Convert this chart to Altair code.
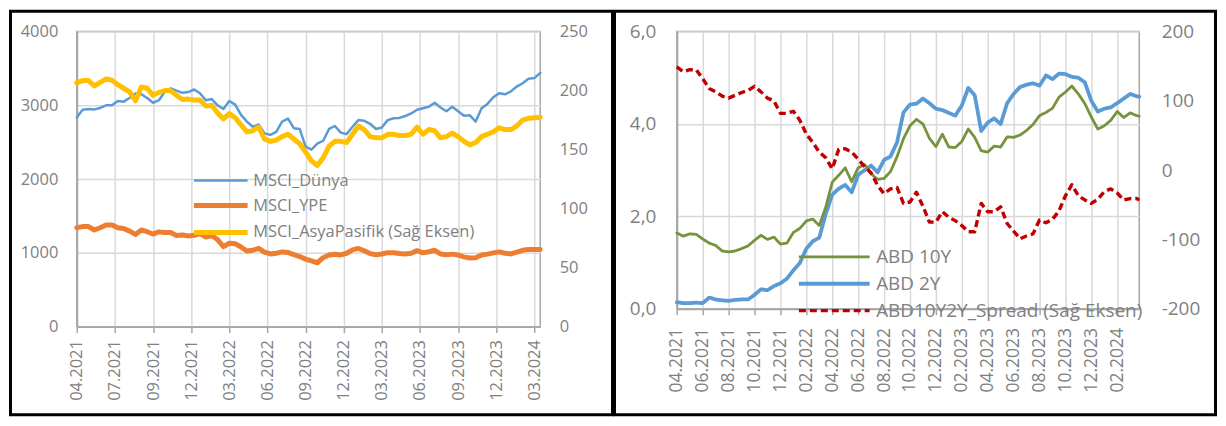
import json
import altair as alt
import pandas as pd

# ---------------- Left panel: MSCI indices (weekly index since 04.2021) ----------------
weeks_l = [0, 2, 4, 6, 8, 10, 12, 14, 16, 18, 20, 22, 24, 26, 28, 30, 32, 34, 36, 38,
           40, 42, 44, 46, 48, 50, 52, 54, 56, 58, 60, 62, 64, 66, 68, 70, 72, 74, 76, 78,
           80, 82, 84, 86, 88, 90, 92, 94, 96, 98, 100, 102, 104, 106, 108, 110, 112, 114, 116, 118,
           120, 122, 124, 126, 128, 130, 132, 134, 136, 138, 140, 142, 144, 146, 148, 150, 152, 154, 156, 158]
msci_dunya = [2835, 2940, 2950, 2945, 2965, 3000, 3000, 3060, 3050, 3100,
              3160, 3150, 3100, 3035, 3070, 3185, 3230, 3200, 3170, 3180,
              3215, 3165, 3070, 3085, 3000, 2950, 3060, 3010, 2870, 2780,
              2710, 2740, 2620, 2600, 2640, 2780, 2820, 2690, 2680, 2440,
              2400, 2480, 2520, 2680, 2720, 2630, 2610, 2710, 2800, 2790,
              2750, 2680, 2700, 2800, 2825, 2830, 2855, 2890, 2940, 2960,
              2980, 3035, 2971, 2920, 2980, 2920, 2860, 2865, 2780, 2960,
              3020, 3110, 3165, 3150, 3190, 3255, 3300, 3360, 3370, 3440]
msci_ype = [1342, 1356, 1356, 1310, 1340, 1379, 1379, 1340, 1330, 1295,
            1250, 1310, 1287, 1255, 1285, 1275, 1275, 1235, 1242, 1230,
            1238, 1262, 1215, 1235, 1180, 1085, 1130, 1125, 1080, 1025,
            1036, 1060, 1010, 985, 995, 1013, 1006, 975, 950, 915,
            890, 866, 935, 972, 980, 972, 995, 1040, 1060, 1028,
            990, 975, 985, 1003, 1001, 992, 985, 995, 1030, 1000,
            1015, 1035, 985, 975, 983, 970, 946, 930, 935, 970,
            983, 1000, 1013, 995, 985, 1010, 1035, 1047, 1047, 1047]
msci_asya = [206.5, 208.5, 208.5, 204, 207, 210, 208.8, 205, 202, 199,
             191.4, 203, 202, 196, 198.5, 200, 200, 196, 192.5, 192.8,
             192, 192, 187, 187.5, 181, 176, 180.5, 177, 171, 165,
             166, 169, 159, 157, 158, 161, 163, 159, 155, 148,
             140.5, 136.5, 143, 153, 157, 157, 156, 163, 170, 167,
             161, 160, 160, 163, 163, 162, 162, 163, 169, 163,
             167, 166, 160, 161, 164, 161, 157, 154, 156, 161,
             163, 165, 168.5, 167, 167, 170, 175, 176.5, 177, 177.5]
left_names = ["MSCI_Dünya", "MSCI_YPE", "MSCI_AsyaPasifik (Sağ Eksen)"]
left_tick_weeks = [0, 13, 26, 39, 52, 65, 78, 91, 104, 117, 130, 143, 156]
left_tick_labels = ["04.2021", "07.2021", "09.2021", "12.2021", "03.2022", "06.2022", "09.2022",
                    "12.2022", "03.2023", "06.2023", "09.2023", "12.2023", "03.2024"]

# ---------------- Right panel: US yields (months since 04.2021) ----------------
months_r = [0, 0.5, 1, 1.5, 2, 2.5, 3, 3.5, 4, 4.5, 5, 5.5, 6, 6.5, 7, 7.5, 8, 8.5, 9, 9.5,
            10, 10.5, 11, 11.5, 12, 12.5, 13, 13.5, 14, 14.5, 15, 15.5, 16, 16.5, 17, 17.5, 18, 18.5, 19, 19.5,
            20, 20.5, 21, 21.5, 22, 22.5, 23, 23.5, 24, 24.5, 25, 25.5, 26, 26.5, 27, 27.5, 28, 28.5, 29, 29.5,
            30, 30.5, 31, 31.5, 32, 32.5, 33, 33.5, 34, 34.5, 35, 35.5, 35.7]
abd_10y = [1.64, 1.57, 1.62, 1.61, 1.51, 1.42, 1.37, 1.25, 1.23, 1.25,
           1.30, 1.36, 1.48, 1.59, 1.50, 1.55, 1.40, 1.42, 1.65, 1.74,
           1.90, 1.94, 1.80, 2.20, 2.74, 2.89, 3.05, 2.75, 3.05, 3.12,
           2.92, 2.80, 2.82, 2.97, 3.29, 3.68, 3.96, 4.10, 4.00, 3.69,
           3.51, 3.78, 3.50, 3.49, 3.62, 3.89, 3.71, 3.42, 3.39, 3.52,
           3.50, 3.72, 3.71, 3.76, 3.86, 3.99, 4.18, 4.25, 4.34, 4.58,
           4.69, 4.82, 4.65, 4.44, 4.15, 3.89, 3.96, 4.08, 4.27, 4.14,
           4.24, 4.18, 4.17]
abd_2y = [0.14, 0.12, 0.12, 0.13, 0.12, 0.24, 0.20, 0.18, 0.17, 0.19,
          0.20, 0.20, 0.30, 0.42, 0.40, 0.49, 0.55, 0.65, 0.83, 0.99,
          1.30, 1.46, 1.54, 2.05, 2.47, 2.60, 2.68, 2.52, 2.90, 3.00,
          3.10, 2.95, 3.22, 3.30, 3.60, 4.25, 4.42, 4.44, 4.55, 4.45,
          4.33, 4.30, 4.24, 4.18, 4.40, 4.78, 4.62, 3.85, 4.03, 4.12,
          4.00, 4.45, 4.65, 4.80, 4.85, 4.88, 4.83, 5.05, 4.97, 5.09,
          5.08, 5.02, 5.00, 4.90, 4.50, 4.27, 4.33, 4.36, 4.45, 4.55,
          4.65, 4.60, 4.59]
spread_10y2y = [149, 142, 145, 145, 132, 118, 113, 107, 104, 108,
                112, 115, 121, 113, 104, 100, 82, 82, 85, 72,
                52, 40, 26, 18, 2, 30, 31, 26, 16, 5,
                -4, -22, -34, -27, -25, -48, -46, -32, -52, -75,
                -75, -60, -68, -73, -80, -89, -89, -48, -60, -60,
                -53, -77, -88, -99, -95, -92, -72, -76, -71, -59,
                -37, -21, -37, -43, -48, -42, -31, -27, -33, -43,
                -41, -41, -43]
right_names = ["ABD 10Y", "ABD 2Y", "ABD10Y2Y_Spread (Sağ Eksen)"]
right_tick_months = [0, 2, 4, 6, 8, 10, 12, 14, 16, 18, 20, 22, 24, 26, 28, 30, 32, 34]
right_tick_labels = ["04.2021", "06.2021", "08.2021", "10.2021", "12.2021", "02.2022", "04.2022",
                     "06.2022", "08.2022", "10.2022", "12.2022", "02.2023", "04.2023", "06.2023",
                     "08.2023", "10.2023", "12.2023", "02.2024"]

# ---------------- styling ----------------
FONT = "Open Sans"
TXT = "#808080"
AXC = "#A6A6A6"
GRID = "#D9D9D9"


def lbl_expr(labels, step):
    return json.dumps(labels) + "[round(datum.value / %s)]" % step


def frame(x, x2, y, y2):
    return alt.Chart(alt.Data(values=[{"f": 1}])).mark_rect(
        fillOpacity=0, stroke="black", strokeWidth=3
    ).encode(x=alt.value(x), x2=alt.value(x2), y=alt.value(y), y2=alt.value(y2))


# ---------- left chart ----------
df_dunya = pd.DataFrame({"w": weeks_l, "v": msci_dunya, "s": left_names[0]})
df_ype = pd.DataFrame({"w": weeks_l, "v": msci_ype, "s": left_names[1]})
df_asya = pd.DataFrame({"w": weeks_l, "v": msci_asya, "s": left_names[2]})

xl = alt.X("w:Q", scale=alt.Scale(domain=[0, 158], nice=False, zero=False),
           axis=alt.Axis(values=left_tick_weeks, labelExpr=lbl_expr(left_tick_labels, 13),
                         labelAngle=270, labelAlign="right", labelBaseline="middle",
                         labelPadding=7, tickSize=6, tickColor=AXC, tickWidth=1.5,
                         domainColor=AXC, domainWidth=2, grid=True, gridColor=GRID, gridWidth=1.5,
                         labelFontSize=16.5, labelColor=TXT, labelFont=FONT, labelFlush=False,
                         labelOverlap=False, title=None))
leg_l = alt.Legend(orient="none", legendX=115, legendY=141, direction="vertical", title=None,
                   symbolType="M-1,0H6.7", symbolSize=196, labelOffset=43, labelFontSize=16.5,
                   labelFont=FONT, labelColor=TXT, rowPadding=6, padding=0, labelLimit=400)
col_l = alt.Color("s:N", scale=alt.Scale(domain=left_names, range=["#5B9BD5", "#ED7D31", "#FFC000"]), legend=leg_l)
sw_l = alt.StrokeWidth("s:N", scale=alt.Scale(type="ordinal", domain=left_names, range=[2.5, 5, 5]), legend=leg_l)

ax_l_left = alt.Axis(values=[0, 1000, 2000, 3000, 4000], format="d", ticks=False, domainColor=AXC,
                     domainWidth=2, grid=True, gridColor=GRID, gridWidth=1.5, labelPadding=19,
                     labelFontSize=16.5, labelColor=TXT, labelFont=FONT, title=None)
ax_l_right = alt.Axis(values=[0, 50, 100, 150, 200, 250], format="d", orient="right", ticks=False,
                      domain=False, grid=False, labelPadding=19, labelFontSize=16.5, labelColor=TXT,
                      labelFont=FONT, title=None)

line_kw = dict(strokeCap="round", strokeJoin="round")
yl1 = alt.Y("v:Q", scale=alt.Scale(domain=[0, 4000], nice=False), axis=ax_l_left)
l_dunya = alt.Chart(df_dunya).mark_line(**line_kw).encode(x=xl, y=yl1, color=col_l, strokeWidth=sw_l)
l_ype = alt.Chart(df_ype).mark_line(**line_kw).encode(x=xl, y=yl1, color=col_l, strokeWidth=sw_l)
l_asya = alt.Chart(df_asya).mark_line(**line_kw).encode(
    x=xl, y=alt.Y("v:Q", scale=alt.Scale(domain=[0, 250], nice=False), axis=ax_l_right),
    color=col_l, strokeWidth=sw_l)

left = alt.layer(alt.layer(l_ype, l_dunya), l_asya, frame(-66.5, 537.5, -20.5, 384.5)).resolve_scale(
    y="independent").properties(width=465, height=296)

# ---------- right chart ----------
df_10 = pd.DataFrame({"m": months_r, "v": abd_10y, "s": right_names[0]})
df_2 = pd.DataFrame({"m": months_r, "v": abd_2y, "s": right_names[1]})
df_sp = pd.DataFrame({"m": months_r, "v": spread_10y2y, "s": right_names[2]})

xr = alt.X("m:Q", scale=alt.Scale(domain=[0, 35.7], nice=False, zero=False),
           axis=alt.Axis(values=right_tick_months, labelExpr=lbl_expr(right_tick_labels, 2),
                         labelAngle=270, labelAlign="right", labelBaseline="middle",
                         labelPadding=13, tickSize=6, tickColor=AXC, tickWidth=1.5,
                         domainColor=AXC, domainWidth=2, grid=True, gridColor=GRID, gridWidth=1.5,
                         labelFontSize=17.5, labelColor=TXT, labelFont=FONT, labelFlush=False,
                         labelOverlap=False, title=None))
leg_r = alt.Legend(orient="none", legendX=120, legendY=216.5, direction="vertical", title=None,
                   symbolType="M-1,0H9.14", symbolSize=196, labelOffset=61, labelFontSize=19,
                   labelFont=FONT, labelColor=TXT, rowPadding=7, padding=0, labelLimit=500)
col_r = alt.Color("s:N", scale=alt.Scale(domain=right_names, range=["#77933C", "#5B9BD5", "#C00000"]), legend=leg_r)
sw_r = alt.StrokeWidth("s:N", scale=alt.Scale(type="ordinal", domain=right_names, range=[2.8, 3.8, 3.4]), legend=leg_r)
sd_r = alt.StrokeDash("s:N", scale=alt.Scale(domain=right_names, range=[[1, 0], [1, 0], [7, 4]]), legend=leg_r)

ax_r_left = alt.Axis(values=[0, 2, 4, 6], labelExpr="replace(format(datum.value, '.1f'), '.', ',')",
                     ticks=False, domainColor=AXC, domainWidth=2, grid=True, gridColor=GRID, gridWidth=1.5,
                     labelPadding=21, labelFontSize=19, labelColor=TXT, labelFont=FONT, title=None)
ax_r_right = alt.Axis(values=[-200, -100, 0, 100, 200], labelExpr="'' + datum.value", orient="right",
                      ticks=False, domain=False, grid=False, labelPadding=22, labelFontSize=19,
                      labelColor=TXT, labelFont=FONT, title=None)

yr1 = alt.Y("v:Q", scale=alt.Scale(domain=[0, 6], nice=False), axis=ax_r_left)
r_2 = alt.Chart(df_2).mark_line(**line_kw).encode(x=xr, y=yr1, color=col_r, strokeWidth=sw_r, strokeDash=sd_r)
r_10 = alt.Chart(df_10).mark_line(**line_kw).encode(x=xr, y=yr1, color=col_r, strokeWidth=sw_r, strokeDash=sd_r)
r_sp = alt.Chart(df_sp).mark_line(strokeJoin="round").encode(
    x=xr, y=alt.Y("v:Q", scale=alt.Scale(domain=[-200, 200], nice=False), axis=ax_r_right),
    color=col_r, strokeWidth=sw_r, strokeDash=sd_r)

right = alt.layer(alt.layer(r_2, r_10), r_sp, frame(-62.5, 540.5, -20.5, 384.5)).resolve_scale(
    y="independent").properties(width=464, height=278)

chart = alt.hconcat(left, right, spacing=-3).resolve_scale(
    color="independent", strokeWidth="independent", strokeDash="independent"
).resolve_legend(
    color="independent", strokeWidth="independent", strokeDash="independent"
).properties(
    padding=0, background="white"
).configure_view(stroke=AXC, strokeWidth=1.5)

chart.save("out.html", embed_options={"renderer": "svg", "actions": False})
